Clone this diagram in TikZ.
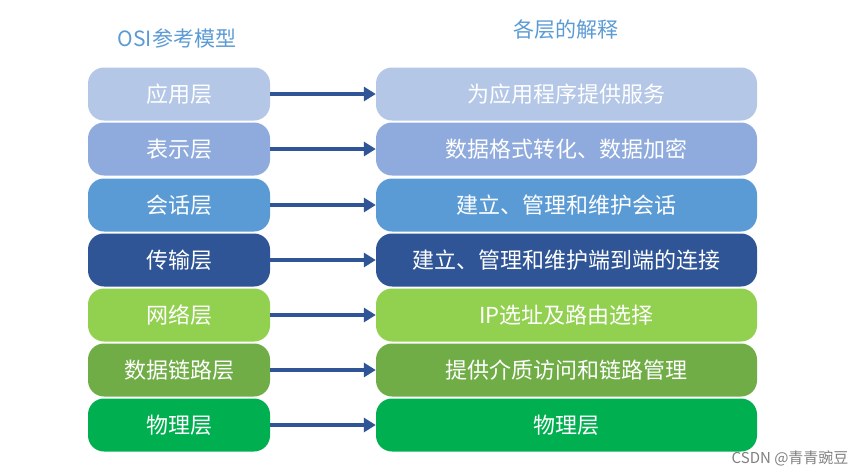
\documentclass[tikz,border=0pt]{standalone}
\usepackage{fontspec}
\newfontfamily\cjk{Noto Sans CJK SC}
\usepackage{xcolor}
\usepackage{tikz}
\usetikzlibrary{arrows.meta,backgrounds,calc,positioning}
\definecolor{titleblue}{HTML}{5B9BD5}
\definecolor{arrowblue}{HTML}{2F5597}
\definecolor{layA}{HTML}{B4C7E7}
\definecolor{layB}{HTML}{8FAADC}
\definecolor{layC}{HTML}{5B9BD5}
\definecolor{layD}{HTML}{2F5597}
\definecolor{layE}{HTML}{92D050}
\definecolor{layF}{HTML}{70AD47}
\definecolor{layG}{HTML}{00B050}
\tikzset{
  layer/.style={rounded corners=16pt, minimum height=53pt, inner sep=0pt,
    text=white, font=\cjk\fontsize{22}{26}\selectfont},
  leftbox/.style={layer, minimum width=182pt},
  rightbox/.style={layer, minimum width=381pt},
  link/.style={draw=arrowblue, line width=3.5pt, -{Triangle[length=12pt,width=14pt]}},
  headline/.style={text=titleblue, font=\cjk\fontsize{21}{25}\selectfont}
}
\begin{document}
\begin{tikzpicture}[x=1pt,y=-1pt]
\useasboundingbox[fill=white] (0,0) rectangle (865,475);
% titles
\node[headline] (osititle) at (177,38) {OSI参考模型};
\node[headline] (exptitle) at (566,30) {各层的解释};
% left column
\node[leftbox, fill=layA] (app)  at (179,94)  {应用层};
\node[leftbox, fill=layB] (pres) at (179,149) {表示层};
\node[leftbox, fill=layC] (sess) at (179,205) {会话层};
\node[leftbox, fill=layD] (trans) at (179,260) {传输层};
\node[leftbox, fill=layE] (net)  at (179,315) {网络层};
\node[leftbox, fill=layF] (link) at (179,370) {数据链路层};
\node[leftbox, fill=layG] (phys) at (179,425) {物理层};
% right column
\node[rightbox, fill=layA] (appx)  at (566.5,94)  {为应用程序提供服务};
\node[rightbox, fill=layB] (presx) at (566.5,149) {数据格式转化、数据加密};
\node[rightbox, fill=layC] (sessx) at (566.5,205) {建立、管理和维护会话};
\node[rightbox, fill=layD] (transx) at (566.5,260) {建立、管理和维护端到端的连接};
\node[rightbox, fill=layE] (netx)  at (566.5,315) {IP选址及路由选择};
\node[rightbox, fill=layF] (linkx) at (566.5,370) {提供介质访问和链路管理};
\node[rightbox, fill=layG] (physx) at (566.5,425) {物理层};
% arrows
\draw[link] (app) -- (appx);
\draw[link] (pres) -- (presx);
\draw[link] (sess) -- (sessx);
\draw[link] (trans) -- (transx);
\draw[link] (net) -- (netx);
\draw[link] (link) -- (linkx);
\draw[link] (phys) -- (physx);
% watermark
\node[anchor=east, text=gray, font=\cjk\fontsize{15}{18}\selectfont] (mark) at (852,458) {CSDN @青青豌豆};
\end{tikzpicture}
\end{document}
